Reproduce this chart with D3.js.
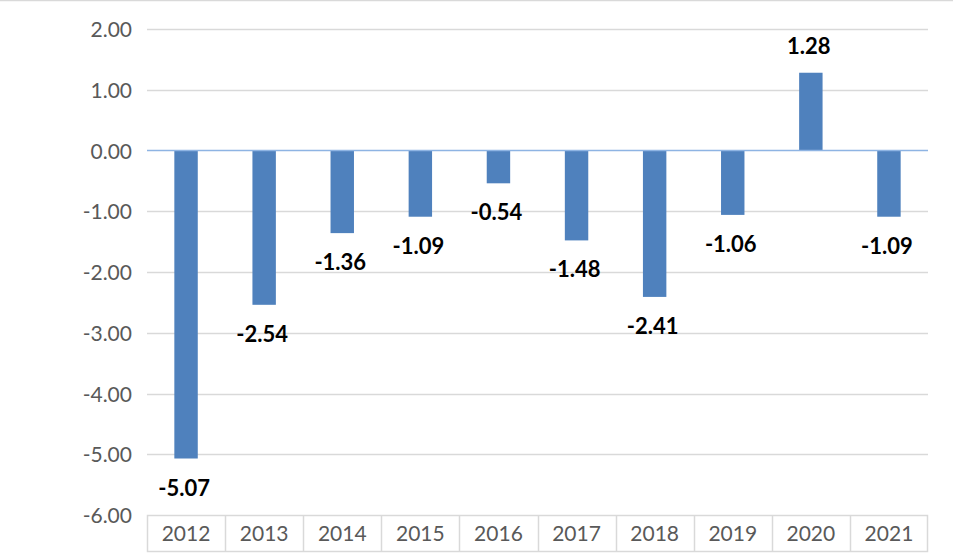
<!DOCTYPE html>
<html>
<head>
<meta charset="utf-8">
<script src="https://cdn.jsdelivr.net/npm/d3@7"></script>
<style>
  html, body { margin: 0; padding: 0; background: #fff; }
  svg { display: block; }
</style>
</head>
<body>
<svg id="chart" width="953" height="555"></svg>
<script>
const categories = ["2012","2013","2014","2015","2016","2017","2018","2019","2020","2021"];
const values = [-5.07,-2.54,-1.36,-1.09,-0.54,-1.48,-2.41,-1.06,1.28,-1.09];
const yTicks = [2,1,0,-1,-2,-3,-4,-5,-6];

const W = 953, H = 555;
const plot = { left: 147, right: 928, top: 29, bottom: 515 };
const tableBottom = 552;
const font = "Lato, 'Open Sans', sans-serif";

const svg = d3.select("#chart");

// chart border (top edge visible)
svg.append("line").attr("x1", 0).attr("x2", W).attr("y1", 0.5).attr("y2", 0.5)
  .attr("stroke", "#d9d9d9").attr("stroke-width", 1.5);

const x = d3.scaleBand().domain(categories).range([plot.left, plot.right]).paddingInner(0).paddingOuter(0);
const y = d3.scaleLinear().domain([-6, 2]).range([plot.bottom, plot.top]);

// gridlines
svg.append("g").selectAll("line").data(yTicks.filter(d => d !== 0 && d !== -6)).join("line")
  .attr("x1", plot.left).attr("x2", plot.right)
  .attr("y1", d => Math.round(y(d)) + 0.5).attr("y2", d => Math.round(y(d)) + 0.5)
  .attr("stroke", "#d9d9d9").attr("stroke-width", 1.5);

// y axis labels
const yAxis = d3.axisLeft(y).tickValues(yTicks).tickSize(0).tickPadding(0).tickFormat(d => d.toFixed(2));
const gy = svg.append("g").attr("transform", `translate(132,0)`).call(yAxis);
gy.select(".domain").remove();
gy.selectAll("text").attr("font-family", font).attr("font-size", 21).attr("fill", "#595959").attr("dy", "0.36em");

// bars
const barW = x.bandwidth() * 0.3;
svg.append("g").selectAll("rect").data(values).join("rect")
  .attr("x", (d, i) => x(categories[i]) + (x.bandwidth() - barW) / 2)
  .attr("width", barW)
  .attr("y", d => y(Math.max(0, d)))
  .attr("height", d => Math.abs(y(d) - y(0)))
  .attr("fill", "#4f81bd");

// zero line
svg.append("line").attr("x1", plot.left).attr("x2", plot.right)
  .attr("y1", y(0)).attr("y2", y(0))
  .attr("stroke", "#8eb4e3").attr("stroke-width", 1.5);

// data labels
svg.append("g").selectAll("text").data(values).join("text")
  .attr("x", (d, i) => x(categories[i]) + x.bandwidth() / 2 - 2)
  .attr("y", d => d >= 0 ? y(d) - 19 : y(d) + 37)
  .attr("text-anchor", "middle")
  .attr("font-family", font).attr("font-size", 22).attr("font-weight", "bold")
  .attr("fill", "#000")
  .text(d => d.toFixed(2));

// category table
const tb = svg.append("g");
tb.append("rect").attr("x", plot.left + 0.5).attr("y", plot.bottom + 0.5)
  .attr("width", plot.right - plot.left - 1).attr("height", tableBottom - plot.bottom - 1)
  .attr("fill", "none").attr("stroke", "#d9d9d9").attr("stroke-width", 1.5);
tb.selectAll("line.sep").data(categories.slice(1)).join("line").attr("class", "sep")
  .attr("x1", d => Math.round(x(d)) + 0.5).attr("x2", d => Math.round(x(d)) + 0.5)
  .attr("y1", plot.bottom).attr("y2", tableBottom)
  .attr("stroke", "#d9d9d9").attr("stroke-width", 1.5);

const xAxis = d3.axisBottom(x).tickSize(0).tickPadding(0);
const gx = svg.append("g").attr("transform", `translate(0,${(plot.bottom + tableBottom) / 2})`).call(xAxis);
gx.select(".domain").remove();
gx.selectAll("text").attr("font-family", font).attr("font-size", 21).attr("fill", "#595959").attr("dy", "0.36em");
</script>
</body>
</html>
